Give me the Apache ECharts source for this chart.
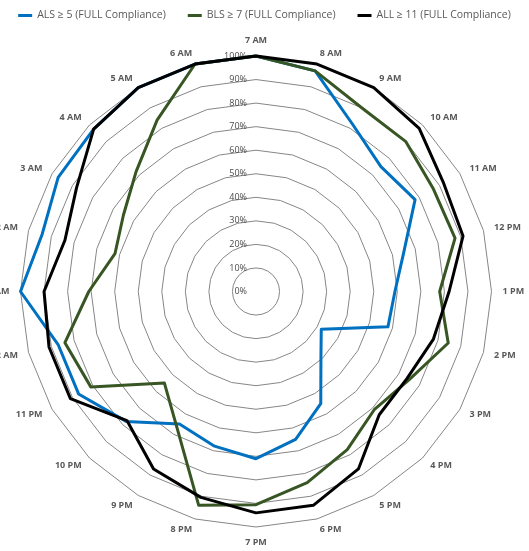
<!DOCTYPE html>
<html>
<head>
<meta charset="utf-8">
<script src="https://cdn.jsdelivr.net/npm/echarts@6/dist/echarts.min.js"></script>
<style>
  html, body { margin: 0; padding: 0; background: #fff; }
  #chart { width: 529px; height: 551px; }
</style>
</head>
<body>
<div id="chart"></div>
<script>
// hours clockwise from the top
var hours = ['7 AM', '8 AM', '9 AM', '10 AM', '11 AM', '12 PM', '1 PM', '2 PM', '3 PM', '4 PM', '5 PM', '6 PM',
  '7 PM', '8 PM', '9 PM', '10 PM', '11 PM', '12 AM', '1 AM', '2 AM', '3 AM', '4 AM', '5 AM', '6 AM'];

var als = [1.00, 0.97, 0.82, 0.75, 0.78, 0.65, 0.59, 0.58, 0.32, 0.39, 0.55, 0.65,
  0.71, 0.68, 0.65, 0.78, 0.87, 0.87, 1.00, 0.94, 0.97, 0.975, 1.00, 1.00];
var bls = [1.00, 0.97, 0.90, 0.90, 0.87, 0.875, 0.78, 0.845, 0.75, 0.71, 0.775, 0.84,
  0.905, 0.94, 0.67, 0.55, 0.81, 0.84, 0.71, 0.62, 0.65, 0.72, 0.84, 1.00];
var all = [1.00, 1.00, 1.00, 0.98, 0.92, 0.91, 0.82, 0.78, 0.74, 0.74, 0.87, 0.94,
  0.94, 0.905, 0.87, 0.775, 0.91, 0.91, 0.90, 0.84, 0.88, 0.975, 1.00, 1.00];

var seriesNames = ['ALS \u2265 5 (FULL Compliance)', 'BLS \u2265 7 (FULL Compliance)', 'ALL \u2265 11 (FULL Compliance)'];
var colors = ['#0070C0', '#375623', '#000000'];

// echarts radar runs counter-clockwise, so flip the order after the first item
function ccw(arr) {
  return [arr[0]].concat(arr.slice(1).reverse());
}

var cx = 256, cy = 291.5, R = 235.5;
var grey = '#595959';

var chart = echarts.init(document.getElementById('chart'));
chart.setOption({
  animation: false,
  color: colors,
  legend: {
    top: 5,
    left: 'center',
    itemWidth: 14,
    itemHeight: 3,
    itemGap: 22,
    icon: 'rect',
    textStyle: { fontSize: 10.5, color: grey, fontFamily: 'Open Sans' },
    data: seriesNames
  },
  radar: {
    center: [cx, cy],
    radius: R,
    startAngle: 90,
    shape: 'polygon',
    splitNumber: 10,
    nameGap: 11,
    indicator: ccw(hours).map(function (h) { return { name: h, min: 0, max: 1 }; }),
    axisName: { color: grey, fontWeight: 'bold', fontSize: 9, fontFamily: 'Open Sans' },
    axisLine: { show: false },
    axisTick: { show: false },
    axisLabel: { show: false },
    splitLine: { lineStyle: { color: '#868686', width: 1 } },
    splitArea: { show: false }
  },
  polar: { center: [cx, cy], radius: R },
  angleAxis: { type: 'value', min: 0, max: 360, startAngle: 90, show: false },
  radiusAxis: {
    type: 'value', min: 0, max: 1, interval: 0.1,
    axisLine: { show: false }, axisTick: { show: false }, splitLine: { show: false },
    axisLabel: {
      color: '#4a4a4a', fontSize: 9, fontFamily: 'Open Sans', margin: 9,
      formatter: function (v) { return Math.round(v * 100) + '%'; }
    }
  },
  series: [{
    type: 'radar',
    symbol: 'none',
    lineStyle: { width: 3 },
    data: [
      { name: seriesNames[0], value: ccw(als), lineStyle: { color: colors[0], width: 3 } },
      { name: seriesNames[1], value: ccw(bls), lineStyle: { color: colors[1], width: 3 } },
      { name: seriesNames[2], value: ccw(all), lineStyle: { color: colors[2], width: 3 } }
    ]
  }]
});
</script>
</body>
</html>
